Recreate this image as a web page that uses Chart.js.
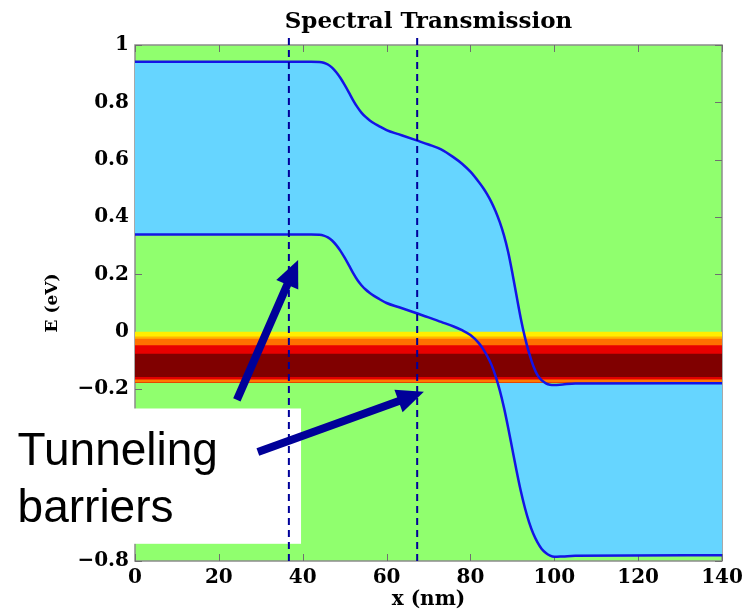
<!DOCTYPE html>
<html>
<head>
<meta charset="utf-8">
<title>Spectral Transmission</title>
<script src="https://cdn.jsdelivr.net/npm/chart.js@4.4.1/dist/chart.umd.min.js"></script>
<style>
  html, body { margin: 0; padding: 0; background: #fff; }
  #wrap { width: 745px; height: 610px; }
</style>
</head>
<body>
<div id="wrap"><canvas id="chart" width="745" height="610"></canvas></div>
<script>
// Position along the device (nm)
const xPos = [0, 42, 44, 45, 46, 47, 48, 49, 50, 51, 52, 53, 54, 55, 56, 57, 58, 60, 63, 67, 70, 73, 76, 78, 80, 82, 83, 84, 85, 86, 87, 88, 89, 90, 91, 92, 93, 94, 95, 96, 97, 98, 99, 100, 102, 105, 140];
// Upper and lower band edges (eV)
const upperE = [0.942, 0.942, 0.941, 0.938, 0.932, 0.921, 0.905, 0.885, 0.861, 0.835, 0.808, 0.784, 0.764, 0.749, 0.737, 0.727, 0.719, 0.703, 0.688, 0.668, 0.653, 0.636, 0.608, 0.586, 0.558, 0.522, 0.502, 0.479, 0.452, 0.42, 0.382, 0.336, 0.278, 0.205, 0.125, 0.047, -0.02, -0.075, -0.12, -0.152, -0.17, -0.18, -0.185, -0.186, -0.184, -0.181, -0.18];
const lowerE = [0.339, 0.339, 0.338, 0.335, 0.329, 0.318, 0.302, 0.282, 0.258, 0.232, 0.205, 0.181, 0.162, 0.147, 0.135, 0.125, 0.116, 0.1, 0.085, 0.065, 0.05, 0.034, 0.018, 0.005, -0.012, -0.04, -0.06, -0.085, -0.115, -0.155, -0.205, -0.265, -0.335, -0.41, -0.485, -0.555, -0.615, -0.665, -0.705, -0.735, -0.758, -0.772, -0.781, -0.785, -0.784, -0.782, -0.78];

// Transmission band: stripe tops (eV), common bottom, colours
const bandTops = [0, -0.017, -0.025, -0.047, -0.077, -0.158, -0.167];
const bandBottom = -0.177;
const bandColors = ['#ffee00', '#ffb400', '#ff7000', '#e80000', '#800000', '#e00000', '#ff7a00'];

// Tunneling barrier markers (nm)
const barrierX = [36.7, 67.3];

const xTicks = [0, 20, 40, 60, 80, 100, 120, 140];
const yTicks = [-0.8, -0.6, -0.4, -0.2, 0, 0.2, 0.4, 0.6, 0.8, 1];

// Annotation (data coordinates)
const noteLines = ['Tunneling', 'barriers'];
const noteX = -28;
const noteBaselines = [-0.465, -0.664];
const noteBoxX = [-33, 39.6];
const noteBoxY = [-0.268, -0.74];
const arrowTails = [[24.3, -0.238], [29.3, -0.42]];
const arrowTips = [[38.9, 0.25], [68.9, -0.21]];

const plotGreen = '#90ff6e';
const bandBlue = '#66d5ff';
const lineBlue = '#1414e6';
const navy = '#000099';

const pts = (xs, ys) => xs.map((x, i) => ({ x, y: ys[i] }));

const datasets = [];

// blue region between the two curves
datasets.push({
    data: pts(xPos, upperE), fill: 1, backgroundColor: bandBlue,
    borderWidth: 0, pointRadius: 0, cubicInterpolationMode: 'monotone', order: 30
});
datasets.push({
    data: pts(xPos, lowerE), fill: false, borderWidth: 0, pointRadius: 0,
    cubicInterpolationMode: 'monotone', order: 31
});

// transmission stripes, each from its top down to the band bottom
bandTops.forEach((top, i) => {
    datasets.push({
        data: [{ x: 0, y: top }, { x: 140, y: top }],
        fill: { value: bandBottom }, backgroundColor: bandColors[i],
        borderWidth: 0, pointRadius: 0, order: 20 - i
    });
});

// curves on top
[upperE, lowerE].forEach(ys => {
    datasets.push({
        data: pts(xPos, ys), fill: false, borderColor: lineBlue, borderWidth: 2.5,
        pointRadius: 0, cubicInterpolationMode: 'monotone', order: 2
    });
});

// dashed barrier markers, running above the frame
barrierX.forEach(bx => {
    datasets.push({
        data: [{ x: bx, y: -0.8 }, { x: bx, y: 1.042 }],
        fill: false, borderColor: navy, borderWidth: 2, borderDash: [7, 5],
        pointRadius: 0, clip: false, order: 1
    });
});

const fmtTick = v => {
    const r = Math.round(v * 10) / 10;
    return r < 0 ? '\u2212' + Math.abs(r) : String(r);
};

const decor = {
    id: 'decor',
    beforeDatasetsDraw(chart) {
        const { ctx, chartArea: a, scales: { x, y } } = chart;
        ctx.save();
        ctx.fillStyle = plotGreen;
        ctx.fillRect(a.left, a.top, a.right - a.left, a.bottom - a.top);

        ctx.strokeStyle = '#8c8c8c';
        ctx.lineWidth = 1.5;
        ctx.strokeRect(a.left, a.top, a.right - a.left, a.bottom - a.top);

        // inward tick marks on all four sides
        ctx.strokeStyle = '#6f6f6f';
        ctx.lineWidth = 1;
        ctx.beginPath();
        xTicks.forEach(t => {
            const px = Math.round(x.getPixelForValue(t)) + 0.5;
            ctx.moveTo(px, a.bottom); ctx.lineTo(px, a.bottom - 7);
            ctx.moveTo(px, a.top); ctx.lineTo(px, a.top + 7);
        });
        yTicks.forEach(t => {
            const py = Math.round(y.getPixelForValue(t)) + 0.5;
            ctx.moveTo(a.left, py); ctx.lineTo(a.left + 7, py);
            ctx.moveTo(a.right, py); ctx.lineTo(a.right - 7, py);
        });
        ctx.stroke();

        // white note box with text
        const bx0 = x.getPixelForValue(noteBoxX[0]), bx1 = x.getPixelForValue(noteBoxX[1]);
        const by0 = y.getPixelForValue(noteBoxY[0]), by1 = y.getPixelForValue(noteBoxY[1]);
        ctx.fillStyle = '#fff';
        ctx.fillRect(bx0, by0, bx1 - bx0, by1 - by0);
        ctx.fillStyle = '#000';
        ctx.font = '46px "Liberation Sans", Arial, sans-serif';
        ctx.textBaseline = 'alphabetic';
        ctx.textAlign = 'left';
        noteLines.forEach((s, i) => {
            ctx.fillText(s, x.getPixelForValue(noteX), y.getPixelForValue(noteBaselines[i]));
        });
        ctx.restore();
    },
    afterDatasetsDraw(chart) {
        const { ctx, scales: { x, y } } = chart;
        ctx.save();
        ctx.fillStyle = navy;
        ctx.strokeStyle = navy;
        arrowTails.forEach((tail, i) => {
            const x0 = x.getPixelForValue(tail[0]), y0 = y.getPixelForValue(tail[1]);
            const x1 = x.getPixelForValue(arrowTips[i][0]), y1 = y.getPixelForValue(arrowTips[i][1]);
            const ang = Math.atan2(y1 - y0, x1 - x0);
            const headLen = 27, headHalf = 12;
            const bx = x1 - headLen * Math.cos(ang), by = y1 - headLen * Math.sin(ang);
            ctx.lineWidth = 8;
            ctx.beginPath();
            ctx.moveTo(x0, y0);
            ctx.lineTo(bx + 2 * Math.cos(ang), by + 2 * Math.sin(ang));
            ctx.stroke();
            ctx.beginPath();
            ctx.moveTo(x1, y1);
            ctx.lineTo(bx - headHalf * Math.sin(ang), by + headHalf * Math.cos(ang));
            ctx.lineTo(bx + headHalf * Math.sin(ang), by - headHalf * Math.cos(ang));
            ctx.closePath();
            ctx.fill();
        });
        ctx.restore();
    }
};

const serif = '"DejaVu Serif", "Liberation Serif", serif';

new Chart(document.getElementById('chart').getContext('2d'), {
    type: 'line',
    data: { datasets },
    plugins: [decor],
    options: {
        responsive: false,
        animation: false,
        events: [],
        layout: { padding: { top: 0, left: 0, right: 23, bottom: 0 } },
        plugins: {
            legend: { display: false },
            tooltip: { enabled: false },
            title: {
                display: true,
                text: 'Spectral Transmission',
                fullSize: false,
                color: '#000',
                font: { family: serif, size: 23, weight: 'bold', lineHeight: 1.2 },
                padding: { top: 8, bottom: 9.4 }
            }
        },
        scales: {
            x: {
                type: 'linear',
                min: 0, max: 140,
                afterBuildTicks: s => { s.ticks = xTicks.map(v => ({ value: v })); },
                afterFit: s => { s.height = 49; s.paddingLeft = 0; s.paddingRight = 0; },
                grid: { display: false, drawTicks: false },
                border: { display: false },
                ticks: {
                    color: '#000', padding: 5, maxRotation: 0,
                    font: { family: serif, size: 20, weight: 'bold', lineHeight: 1.2 },
                    callback: v => fmtTick(v)
                },
                title: {
                    display: true, text: 'x (nm)', color: '#000',
                    font: { family: serif, size: 20, weight: 'bold', lineHeight: 1 },
                    padding: { top: 0, bottom: 0 }
                }
            },
            y: {
                type: 'linear',
                min: -0.8, max: 1,
                afterBuildTicks: s => { s.ticks = yTicks.map(v => ({ value: v })); },
                afterFit: s => { s.width = 135; s.paddingTop = 0; s.paddingBottom = 0; },
                grid: { display: false, drawTicks: false },
                border: { display: false },
                ticks: {
                    color: '#000', padding: 6,
                    font: { family: serif, size: 20, weight: 'bold', lineHeight: 1.2 },
                    callback: v => fmtTick(v)
                },
                title: {
                    display: true, text: 'E (eV)', color: '#000',
                    font: { family: serif, size: 17, weight: 'bold', lineHeight: 1.2 },
                    padding: { top: 42, bottom: 0 }
                }
            }
        }
    }
});
</script>
</body>
</html>
